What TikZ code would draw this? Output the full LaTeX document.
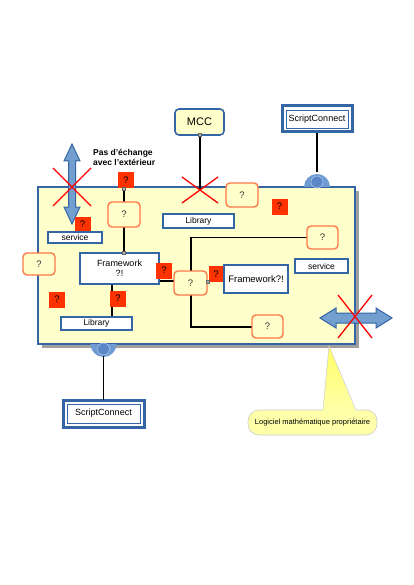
\documentclass[tikz,border=0pt]{standalone}
\usepackage{fontspec}
\setmainfont{Liberation Sans}
\usetikzlibrary{shadings}
\definecolor{bblue}{RGB}{52,101,164}
\definecolor{ablue}{RGB}{114,159,207}
\definecolor{pyellow}{RGB}{255,255,204}
\definecolor{qorange}{RGB}{255,120,70}
\definecolor{rsq}{RGB}{255,51,0}
\definecolor{sockblue}{RGB}{110,155,210}
\definecolor{ballblue}{RGB}{90,135,200}
\definecolor{cyellow}{RGB}{255,255,170}
\definecolor{tyellow}{RGB}{255,255,102}
\tikzset{
  fs/.style={font=\fontsize{#1}{#1}\selectfont},
  wbox/.style={draw=bblue,line width=1.6pt,fill=white,inner sep=0pt,minimum width=#1},
  qbox/.style={draw=qorange,line width=1.4pt,fill=pyellow,rounded corners=4pt,inner sep=0pt,text=black!80,fs=9.5},
  rbox/.style={fill=rsq,inner sep=0pt,minimum width=16pt,minimum height=16pt,fs=9.5},
  scbox/.style={draw=bblue,line width=3pt,fill=white,inner sep=0pt,fs=9},
  scinner/.style={draw=bblue,line width=0.9pt,inner sep=0pt},
  conn/.style={line width=1.8pt,black},
  rcross/.style={red,line width=1.3pt},
  bigarrow/.style={fill=ablue,draw=bblue,line width=1pt,line join=miter},
  tinysq/.style={fill=gray!60,draw=black!60,line width=0.3pt,inner sep=0pt,minimum size=3pt},
}
\begin{document}
\begin{tikzpicture}[x=1pt,y=-1pt]
\useasboundingbox (0,0) rectangle (413,585);
% panel
\fill[gray!75] (42,191) rectangle (359,348);
\draw[bblue,line width=1.6pt,fill=pyellow] (38,187) rectangle (355,344);
% top nodes outside
\node[draw=bblue,line width=1.6pt,fill=pyellow,rounded corners=4pt,minimum width=49pt,minimum height=26pt,inner sep=0pt,fs=11] (mcc) at (199.5,122) {MCC};
\node[scbox,minimum width=70pt,minimum height=26pt] (sct) at (317,119) {ScriptConnect};
\node[scinner,minimum width=62pt,minimum height=18pt] at (317,119) {};
\node[scbox,minimum width=81pt,minimum height=27pt] (scb) at (103.5,413.5) {ScriptConnect};
\node[scinner,minimum width=73pt,minimum height=19pt] at (103.5,413.5) {};
% sockets
\coordinate (sockt) at (317,172);
\coordinate (sockb) at (103.5,356);
\fill[sockblue] (304,187) arc[start angle=180,end angle=360,radius=13] -- cycle;
\fill[ballblue,draw=sockblue!60!white,line width=0.6pt] (317,182) circle[radius=6];
\fill[sockblue] (90.5,344) arc[start angle=180,end angle=0,radius=13] -- cycle;
\fill[ballblue,draw=sockblue!60!white,line width=0.6pt] (103.5,349) circle[radius=6];
% inner nodes
\node[wbox=54pt,minimum height=11pt,fs=8.5] (serl) at (75,237.5) {service};
\node[wbox=71pt,minimum height=14pt,fs=8.5] (libt) at (198.5,221) {Library};
\node[wbox=64pt,minimum height=28pt,fs=9.5] (fwr) at (256,279) {Framework?!};
\node[wbox=53pt,minimum height=14pt,fs=8.5] (serr) at (321.5,266) {service};
\node[qbox,minimum width=32pt,minimum height=22pt] (q6) at (39,264) {?};
\node[rbox] (r1) at (126,180) {?};
\node[rbox] (r3) at (279.5,206.5) {?};
\node[rbox,minimum width=14pt] (r5) at (216,274) {?};
\node[rbox] (r6) at (57,299.5) {?};
\coordinate (xm) at (200,189);
% connectors
\draw[conn] (200,135) -- (xm);
\draw[conn] (317,133) -- (sockt);
\draw[conn] (sockb) -- (103.5,400);
\draw[conn] (124,188) -- (124,253);
\draw[conn] (112,284) -- (112,317);
\draw[conn] (307,237.5) -- (191,237.5) -- (191,271);
\draw[conn] (191,295) -- (191,327) -- (252,327);
\draw[conn] (159,281) -- (174,281);
% nodes over lines
\node[qbox,minimum width=32pt,minimum height=25pt] (q1) at (124,214.5) {?};
\node[wbox=79pt,minimum height=31pt,fs=9,align=center] (fwl) at (119.5,268.5) {Framework\\[1pt]?!};
\node[wbox=71pt,minimum height=13pt,fs=8.5] (libb) at (96.5,323.5) {Library};
\node[rbox] (r7) at (118,298.5) {?};
\node[qbox,minimum width=33pt,minimum height=24pt] (q4) at (190.5,283) {?};
\node[qbox,minimum width=31pt,minimum height=23pt] (q3) at (322.5,237.5) {?};
\node[qbox,minimum width=31pt,minimum height=23pt] (q5) at (267.5,326.5) {?};
\node[rbox] (r4) at (164,270.5) {?};
\node[tinysq] (t1) at (200,135) {};
\node[tinysq] (t2) at (124,189) {};
\node[tinysq] (t3) at (124,253) {};
\node[tinysq] (t4) at (208,282) {};
% top-right q box straddling border
\node[qbox,minimum width=32pt,minimum height=24pt] (q2) at (242,195) {?};
% vertical double arrow
\draw[bigarrow] (72,144) -- (80,161) -- (75.5,161) -- (75.5,207) -- (80,207) -- (72,224) -- (64,207) -- (68.5,207) -- (68.5,161) -- (64,161) -- cycle;
\node[rbox] (r2) at (82.5,224.5) {?};
\node[wbox=54pt,minimum height=11pt,fs=8.5] at (75,237.5) {service};
% horizontal double arrow
\draw[bigarrow] (320,318) -- (336,308) -- (336,313) -- (376,313) -- (376,308) -- (392,318) -- (376,328) -- (376,323) -- (336,323) -- (336,328) -- cycle;
% red crosses
\draw[rcross] (53,168) -- (91,206) (91,168) -- (53,206);
\draw[rcross] (182,177) -- (218,203) (218,177) -- (182,203);
\draw[rcross] (338,295) -- (372,338) (372,295) -- (338,338);
% label
\node[font=\bfseries\fontsize{8.5}{10}\selectfont,align=left,anchor=north west,inner sep=0pt] (pas) at (93,149) {Pas d'échange\\avec l'extérieur};
% callout
\node[draw=gray!40,line width=0.6pt,fill=cyellow,rounded corners=11pt,minimum width=129pt,minimum height=25pt,inner sep=0pt,fs=7.5] (call) at (312.5,422.5) {Logiciel mathématique propriétaire};
\shade[top color=tyellow,bottom color=cyellow] (329,346) -- (356,411.5) -- (323,411.5) -- cycle;
\draw[gray!40,line width=0.5pt] (323,410) -- (329,346) -- (356,410);
\end{tikzpicture}
\end{document}
